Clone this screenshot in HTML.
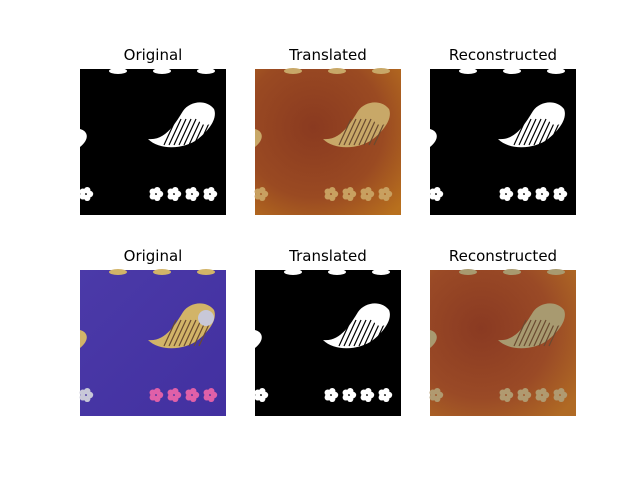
<!DOCTYPE html>
<html><head><meta charset="utf-8"><style>
body{margin:0;background:#fff;width:640px;height:480px;overflow:hidden;font-family:"DejaVu Sans","Liberation Sans",sans-serif}
svg{display:block}
</style></head><body>
<svg id="fig" width="640" height="480" viewBox="0 0 640 480">
<defs>
<radialGradient id="brown1" cx="0.4" cy="0.4" r="0.8"><stop offset="0" stop-color="#8a3a20"/><stop offset="0.6" stop-color="#9a4a22"/><stop offset="1" stop-color="#b8701e"/></radialGradient>
<radialGradient id="brown2" cx="0.35" cy="0.4" r="0.8"><stop offset="0" stop-color="#8a3a22"/><stop offset="0.6" stop-color="#9a4a26"/><stop offset="1" stop-color="#b06a24"/></radialGradient>
<linearGradient id="purple" x1="0" y1="0" x2="1" y2="1"><stop offset="0" stop-color="#4b3aa8"/><stop offset="1" stop-color="#4230a0"/></linearGradient>
</defs>
</svg>
<script>
const titles=["Original","Translated","Reconstructed","Original","Translated","Reconstructed"];
const bgs=["#000","url(#brown1)","#000","url(#purple)","#000","url(#brown2)"];
const motif=["#fff","#c8a868","#fff","#d2b468","#fff","#a89a70"];
const flower=["#fff","#c8a060","#fff","#e060a8","#fff","#b09a70"];
const cols=[80,255,430], rows=[69,270], S=146;
const svg=document.getElementById('fig');
const NS='http://www.w3.org/2000/svg';
function mk(t,a,p){const e=document.createElementNS(NS,t);for(const k in a)e.setAttribute(k,a[k]);p.appendChild(e);return e;}
for(let i=0;i<6;i++){
  const x=cols[i%3], y=rows[Math.floor(i/3)];
  const g=mk('g',{transform:`translate(${x},${y})`},svg);
  
  
  mk('rect',{x:0,y:0,width:S,height:S,fill:bgs[i]},g);
  const m=motif[i];
  const p=mk('path',{d:'M68,70 C85,72 95,55 103,42 C110,32 126,30 134,40 C138,50 128,62 118,70 C105,80 80,82 68,70 Z',fill:m},g);
  
  
  for(let k=0;k<8;k++){mk('line',{x1:84+k*5,y1:76,x2:96+k*5,y2:50,stroke:(i==0||i==2||i==4)?'#000':'#6a4a30','stroke-width':1.2},g);}
  mk('circle',{cx:126,cy:48,r:8,fill:i==3?'#c8c8d8':m},g);
  mk('path',{d:'M0,60 C8,62 10,70 0,78 Z',fill:m},g);
  [[38,2],[82,2],[126,2]].forEach(([cx,cy])=>mk('ellipse',{cx,cy,rx:9,ry:3,fill:m},g));
  [[6,125],[76,125],[94,125],[112,125],[130,125]].forEach(([cx,cy],j)=>{
    const col=j==0&&i==3?'#c8c8d8':flower[i];
    const f=mk('g',{},g);
    
    
    for(let a=0;a<5;a++){const an=a*2*Math.PI/5;mk('circle',{cx:cx+4*Math.cos(an),cy:cy+4*Math.sin(an),r:3.2,fill:col},f);}
  });
  const t=mk('text',{x:x+S/2,y:y-9,'text-anchor':'middle','font-size':15,fill:'#000','font-family':'DejaVu Sans, Liberation Sans, sans-serif'},svg);
  t.textContent=titles[i];
  
  
}
</script>
</body></html>
